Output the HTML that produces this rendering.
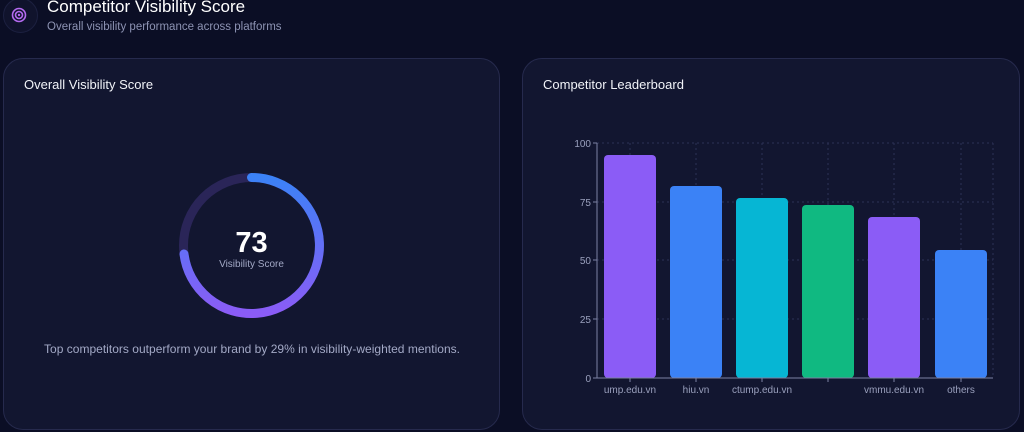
<!DOCTYPE html>
<html><head><meta charset="utf-8"><style>
body{margin:0;width:1024px;height:432px;background:#0b0e25;font-family:"Liberation Sans",sans-serif;overflow:hidden;position:relative;color:#fff}
.card{position:absolute;top:58px;height:372px;background:#121630;border:1px solid #262a4d;border-radius:20px;box-sizing:border-box}
.t{position:absolute;font-size:13px;color:#f1f3f8}
</style></head><body>
<div style="position:absolute;left:3px;top:-2px;width:33px;height:33px;border-radius:50%;background:#10132c;border:1px solid #1c2040"></div>
<svg style="position:absolute;left:0;top:0" width="40" height="40"><circle cx="19" cy="15" r="6.5" fill="none" stroke="#b46af0" stroke-width="1.6"/><circle cx="19" cy="15" r="3.5" fill="none" stroke="#b46af0" stroke-width="1.6"/><circle cx="19" cy="15" r="1.2" fill="#b46af0"/></svg>
<div style="position:absolute;left:47px;top:-3px;font-size:17px;color:#fff">Competitor Visibility Score</div>
<div style="position:absolute;left:47px;top:21px;font-size:11.5px;color:#8d93b3">Overall visibility performance across platforms</div>

<div class="card" style="left:3px;width:497px"></div>
<div class="t" style="left:24px;top:77px">Overall Visibility Score</div>
<svg style="position:absolute;left:0;top:0" width="512" height="432">
<defs><linearGradient id="g" gradientUnits="userSpaceOnUse" x1="0" y1="177" x2="0" y2="314"><stop offset="0" stop-color="#3b82f6"/><stop offset="1" stop-color="#8b5cf6"/></linearGradient></defs>
<circle cx="251.5" cy="245.5" r="68" fill="none" stroke="#2a2558" stroke-width="9"/>
<path d="M251.5 177.5 A68 68 0 1 1 184 254" fill="none" stroke="url(#g)" stroke-width="9" stroke-linecap="round"/>
<text x="251.5" y="252" text-anchor="middle" font-size="29" font-weight="bold" fill="#fff" font-family="Liberation Sans">73</text>
<text x="251.5" y="267" text-anchor="middle" font-size="10" fill="#a3a9c6" font-family="Liberation Sans">Visibility Score</text>
<text x="252" y="353" text-anchor="middle" font-size="12" fill="#a3a9c6" font-family="Liberation Sans" textLength="416">Top competitors outperform your brand by 29% in visibility-weighted mentions.</text>
</svg>

<div class="card" style="left:522px;width:498px"></div>
<div class="t" style="left:543px;top:77px">Competitor Leaderboard</div>
<svg style="position:absolute;left:0;top:0" width="1024" height="432" font-family="Liberation Sans" font-size="10" fill="#9aa0bd">
<g stroke="#2c3156" stroke-dasharray="2 3" stroke-width="1">
<line x1="597" y1="143" x2="993" y2="143"/><line x1="597" y1="202" x2="993" y2="202"/><line x1="597" y1="260" x2="993" y2="260"/><line x1="597" y1="319" x2="993" y2="319"/>
<line x1="630" y1="143" x2="630" y2="378"/><line x1="696" y1="143" x2="696" y2="378"/><line x1="762" y1="143" x2="762" y2="378"/><line x1="828" y1="143" x2="828" y2="378"/><line x1="894" y1="143" x2="894" y2="378"/><line x1="961" y1="143" x2="961" y2="378"/><line x1="993" y1="143" x2="993" y2="378"/>
</g>
<rect x="604" y="155" width="52" height="223" rx="4" fill="#8b5cf6"/>
<rect x="670" y="186" width="52" height="192" rx="4" fill="#3b82f6"/>
<rect x="736" y="198" width="52" height="180" rx="4" fill="#06b6d4"/>
<rect x="802" y="205" width="52" height="173" rx="4" fill="#10b981"/>
<rect x="868" y="217" width="52" height="161" rx="4" fill="#8b5cf6"/>
<rect x="935" y="250" width="52" height="128" rx="4" fill="#3b82f6"/>
<g stroke="#7c82a3"><line x1="597" y1="143" x2="597" y2="378"/><line x1="597" y1="378" x2="993" y2="378"/>
<line x1="593" y1="143" x2="597" y2="143"/><line x1="593" y1="202" x2="597" y2="202"/><line x1="593" y1="260" x2="597" y2="260"/><line x1="593" y1="319" x2="597" y2="319"/><line x1="593" y1="378" x2="597" y2="378"/>
<line x1="630" y1="378" x2="630" y2="382"/><line x1="696" y1="378" x2="696" y2="382"/><line x1="762" y1="378" x2="762" y2="382"/><line x1="828" y1="378" x2="828" y2="382"/><line x1="894" y1="378" x2="894" y2="382"/><line x1="961" y1="378" x2="961" y2="382"/></g>
<g text-anchor="end"><text x="591" y="147">100</text><text x="591" y="206">75</text><text x="591" y="264">50</text><text x="591" y="323">25</text><text x="591" y="382">0</text></g>
<g text-anchor="middle"><text x="630" y="393">ump.edu.vn</text><text x="696" y="393">hiu.vn</text><text x="762" y="393">ctump.edu.vn</text><text x="894" y="393">vmmu.edu.vn</text><text x="961" y="393">others</text></g>
</svg>
</body></html>
